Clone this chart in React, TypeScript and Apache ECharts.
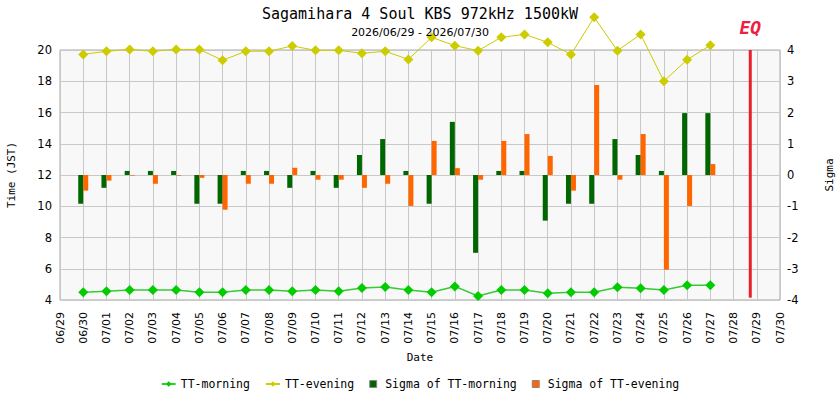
import { useEffect, useRef } from "react";
import * as echarts from "echarts";

const MONO = "'DejaVu Sans Mono', monospace";
const SANS = "'DejaVu Sans', sans-serif";

const titleText = "Sagamihara 4 Soul KBS 972kHz 1500kW";
const subText = "2026/06/29 - 2026/07/30";

const dates = [
  "06/29", "06/30", "07/01", "07/02", "07/03", "07/04", "07/05", "07/06",
  "07/07", "07/08", "07/09", "07/10", "07/11", "07/12", "07/13", "07/14",
  "07/15", "07/16", "07/17", "07/18", "07/19", "07/20", "07/21", "07/22",
  "07/23", "07/24", "07/25", "07/26", "07/27", "07/28", "07/29", "07/30",
];

// TT (hour, JST)
const ttMorning = [
  null, 4.49, 4.56, 4.64, 4.64, 4.64, 4.49, 4.49, 4.64, 4.64, 4.56, 4.64, 4.56, 4.77, 4.83, 4.64,
  4.49, 4.87, 4.26, 4.64, 4.64, 4.43, 4.49, 4.49, 4.81, 4.75, 4.64, 4.94, 4.94, null, null, null,
];
const ttEvening = [
  null, 19.72, 19.92, 20.04, 19.92, 20.04, 20.04, 19.34, 19.92, 19.92, 20.26, 19.98, 19.98, 19.79, 19.92, 19.4,
  20.81, 20.28, 19.96, 20.81, 21.0, 20.49, 19.72, 22.09, 19.96, 21.0, 18.0, 19.38, 20.3, null, null, null,
];

// sigma
const sigmaMorning = [
  null, -0.92, -0.41, 0.13, 0.13, 0.13, -0.92, -0.92, 0.13, 0.13, -0.41, 0.13, -0.41, 0.64, 1.15, 0.13,
  -0.92, 1.7, -2.49, 0.13, 0.13, -1.46, -0.92, -0.92, 1.15, 0.64, 0.13, 1.98, 1.98, null, null, null,
];
const sigmaEvening = [
  null, -0.5, -0.18, -0.02, -0.28, -0.02, -0.09, -1.11, -0.28, -0.28, 0.23, -0.15, -0.15, -0.41, -0.28, -0.99,
  1.09, 0.22, -0.15, 1.09, 1.31, 0.61, -0.5, 2.88, -0.15, 1.31, -3.03, -0.99, 0.35, null, null, null,
];

// earthquake marker: day + fraction of the day
const eqDate = "07/28";
const eqFraction = 0.72;

export default function App() {
  const ref = useRef<HTMLDivElement>(null);

  useEffect(() => {
    if (!ref.current) return;
    const chart = echarts.init(ref.current, undefined, { renderer: "svg" });
    const eqX = dates.indexOf(eqDate) + eqFraction;
    const sq = "path://M0,0H8V8H0Z";
    // bars sit on the hidden day-index axis so the category axis keeps its full width
    const onDays = (arr: (number | null)[]) => arr.map((v, i) => [i, v]);

    chart.setOption({
      animation: false,
      backgroundColor: "#fff",
      title: [
        { text: titleText, left: "center", top: 1, textStyle: { fontFamily: MONO, fontSize: 15, fontWeight: "normal", color: "#000" } },
        { text: subText, left: "center", top: 22, textStyle: { fontFamily: SANS, fontSize: 11, fontWeight: "normal", color: "#000" } },
      ],
      legend: {
        data: [
          { name: "TT-morning" },
          { name: "TT-evening" },
          { name: "Sigma of TT-morning", icon: sq, itemStyle: { borderColor: "#888", borderWidth: 1 } },
          { name: "Sigma of TT-evening", icon: sq, itemStyle: { borderColor: "#888", borderWidth: 1 } },
        ],
        left: "center", top: 373, itemWidth: 14, itemHeight: 7, itemGap: 15,
        textStyle: { fontFamily: MONO, fontSize: 11.5, color: "#000" },
      },
      grid: {
        left: 60, right: 60, top: 50, bottom: 100, show: true, outerBoundsMode: "none",
        backgroundColor: "#f8f8f8", borderColor: "#a8a8a8", borderWidth: 1,
      },
      xAxis: [
        {
          type: "category", data: dates, boundaryGap: false,
          name: "Date", nameLocation: "middle", nameGap: 50,
          nameTextStyle: { fontFamily: MONO, fontSize: 11, color: "#000" },
          axisLine: { show: false }, axisTick: { show: false },
          axisLabel: { interval: 0, rotate: 90, margin: 12, fontFamily: SANS, fontSize: 11, color: "#000" },
          splitLine: { show: true, interval: 0, lineStyle: { color: "#c8c8c8" } },
        },
        { type: "value", min: 0, max: dates.length - 1, show: false },
      ],
      yAxis: [
        {
          type: "value", min: 4, max: 20, interval: 2, position: "left",
          name: "Time (JST)", nameLocation: "middle", nameGap: 43, nameRotate: 90,
          nameTextStyle: { fontFamily: MONO, fontSize: 11, color: "#000" },
          axisLine: { show: false }, axisTick: { show: false },
          axisLabel: { margin: 8, fontFamily: SANS, fontSize: 11.5, color: "#000" },
          splitLine: { show: true, lineStyle: { color: "#c8c8c8" } },
        },
        {
          type: "value", min: -4, max: 4, interval: 1, position: "right",
          name: "Sigma", nameLocation: "middle", nameGap: 44, nameRotate: 90,
          nameTextStyle: { fontFamily: MONO, fontSize: 11, color: "#000" },
          axisLine: { show: false }, axisTick: { show: false },
          axisLabel: { margin: 7, fontFamily: SANS, fontSize: 11.5, color: "#000" },
          splitLine: { show: false },
        },
      ],
      series: [
        {
          name: "Sigma of TT-morning", type: "bar", data: onDays(sigmaMorning), xAxisIndex: 1, yAxisIndex: 1,
          barWidth: 5, barGap: "0%", itemStyle: { color: "#006600" },
        },
        {
          name: "Sigma of TT-evening", type: "bar", data: onDays(sigmaEvening), xAxisIndex: 1, yAxisIndex: 1,
          barWidth: 5, barGap: "0%", itemStyle: { color: "#ff6600" },
        },
        {
          name: "TT-morning", type: "line", data: ttMorning, yAxisIndex: 0, clip: false,
          symbol: "diamond", symbolSize: 10, itemStyle: { color: "#00cc00" },
          lineStyle: { color: "#33cc33", width: 1.5 }, z: 5,
        },
        {
          name: "TT-evening", type: "line", data: ttEvening, yAxisIndex: 0, clip: false,
          symbol: "diamond", symbolSize: 10, itemStyle: { color: "#cccc00" },
          lineStyle: { color: "#cccc00", width: 1 }, z: 5,
        },
        {
          name: "EQ", type: "line", xAxisIndex: 1, yAxisIndex: 0, clip: false,
          showSymbol: true, symbol: "circle", symbolSize: 0, silent: true,
          itemStyle: { color: "#e8202a" },
          lineStyle: { color: "#e8202a", width: 3 },
          data: [
            [eqX, 4.15],
            {
              value: [eqX, 20],
              label: {
                show: true, formatter: "EQ", position: "top", distance: 14,
                fontFamily: MONO, fontSize: 18, fontWeight: "bold", fontStyle: "italic", color: "#ee2040",
              },
            },
          ],
          z: 4,
        },
      ],
    });
    return () => chart.dispose();
  }, []);

  return <div ref={ref} style={{ position: "absolute", left: 0, top: 0, width: 840, height: 400 }} />;
}
